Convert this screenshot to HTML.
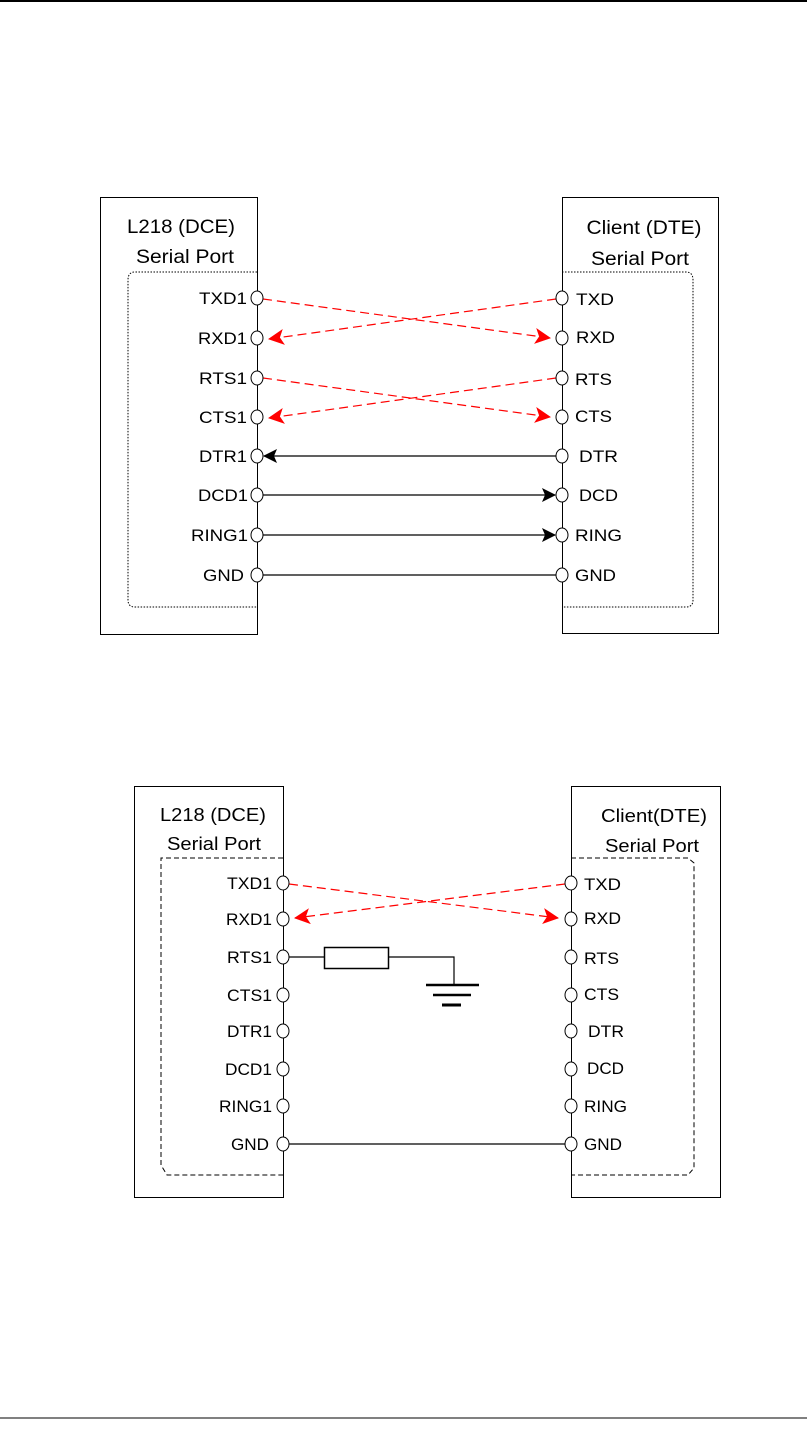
<!DOCTYPE html>
<html><head><style>
html,body{margin:0;padding:0;background:#fff;}
svg text{font-family:"Liberation Sans",sans-serif;fill:#000;}
</style></head><body>
<svg width="807" height="1447" viewBox="0 0 807 1447" xmlns="http://www.w3.org/2000/svg">
<defs>
<marker id="ar" markerWidth="16" markerHeight="16" refX="15" refY="8" orient="auto" markerUnits="userSpaceOnUse"><path d="M0,0 L16,8 L0,16 L4,8 z" fill="#f00"/></marker>
<marker id="ab" markerWidth="14" markerHeight="14" refX="13" refY="7" orient="auto" markerUnits="userSpaceOnUse"><path d="M0,0 L14,7 L0,14 L3,7 z" fill="#000"/></marker>
</defs>
<line x1="0" y1="1" x2="807" y2="1" stroke="#000" stroke-width="2"/>
<line x1="0" y1="1418" x2="807" y2="1418" stroke="#000" stroke-width="1"/>

<!-- Diagram 1 -->
<g fill="none" stroke="#000" stroke-width="1">
<rect x="100.5" y="197.5" width="157" height="437"/>
<rect x="562.5" y="197.5" width="156" height="436"/>
<path d="M257,272 H135 Q128,272 128,280 V600 Q128,607 135,607 H257" stroke-dasharray="1.5,1.5"/>
<path d="M562,272 H686 Q693,272 693,280 V600 Q693,607 686,607 H562" stroke-dasharray="1.5,1.5"/>
</g>
<g font-size="19" text-anchor="middle">
<text x="181" y="233" textLength="108" lengthAdjust="spacingAndGlyphs">L218 (DCE)</text>
<text x="185" y="263" textLength="98" lengthAdjust="spacingAndGlyphs">Serial Port</text>
<text x="644" y="234" textLength="115" lengthAdjust="spacingAndGlyphs">Client (DTE)</text>
<text x="640" y="265" textLength="98" lengthAdjust="spacingAndGlyphs">Serial Port</text>
</g>
<g stroke="#f00" stroke-width="1.2" stroke-dasharray="9,5" fill="none">
<line x1="263" y1="299" x2="550" y2="338" marker-end="url(#ar)"/>
<line x1="556" y1="299" x2="269" y2="339" marker-end="url(#ar)"/>
<line x1="263" y1="378" x2="550" y2="417" marker-end="url(#ar)"/>
<line x1="556" y1="378" x2="269" y2="418" marker-end="url(#ar)"/>
</g>
<g stroke="#000" stroke-width="1.2">
<line x1="556" y1="456" x2="264" y2="456" marker-end="url(#ab)"/>
<line x1="263" y1="495" x2="555" y2="495" marker-end="url(#ab)"/>
<line x1="263" y1="535" x2="555" y2="535" marker-end="url(#ab)"/>
<line x1="263" y1="575" x2="556" y2="575"/>
</g>
<g fill="#fff" stroke="#000" stroke-width="1">
<ellipse cx="257" cy="298" rx="6" ry="7"/><ellipse cx="257" cy="338" rx="6" ry="7"/>
<ellipse cx="257" cy="378" rx="6" ry="7"/><ellipse cx="257" cy="417" rx="6" ry="7"/>
<ellipse cx="257" cy="456" rx="6" ry="7"/><ellipse cx="257" cy="495" rx="6" ry="7"/>
<ellipse cx="257" cy="535" rx="6" ry="7"/><ellipse cx="257" cy="575" rx="6" ry="7"/>
<ellipse cx="562" cy="298" rx="6" ry="7"/><ellipse cx="562" cy="338" rx="6" ry="7"/>
<ellipse cx="562" cy="378" rx="6" ry="7"/><ellipse cx="562" cy="417" rx="6" ry="7"/>
<ellipse cx="562" cy="456" rx="6" ry="7"/><ellipse cx="562" cy="495" rx="6" ry="7"/>
<ellipse cx="562" cy="535" rx="6" ry="7"/><ellipse cx="562" cy="575" rx="6" ry="7"/>
</g>
<g font-size="17" text-anchor="end">
<text x="247" y="304" textLength="48" lengthAdjust="spacingAndGlyphs">TXD1</text>
<text x="247" y="344" textLength="49" lengthAdjust="spacingAndGlyphs">RXD1</text>
<text x="247" y="384" textLength="48" lengthAdjust="spacingAndGlyphs">RTS1</text>
<text x="247" y="423" textLength="48" lengthAdjust="spacingAndGlyphs">CTS1</text>
<text x="247" y="462" textLength="48" lengthAdjust="spacingAndGlyphs">DTR1</text>
<text x="248" y="501" textLength="50" lengthAdjust="spacingAndGlyphs">DCD1</text>
<text x="248" y="541" textLength="57" lengthAdjust="spacingAndGlyphs">RING1</text>
<text x="244" y="581" textLength="41" lengthAdjust="spacingAndGlyphs">GND</text>
</g>
<g font-size="17">
<text x="576" y="305" textLength="38" lengthAdjust="spacingAndGlyphs">TXD</text>
<text x="576" y="343" textLength="39" lengthAdjust="spacingAndGlyphs">RXD</text>
<text x="575" y="385" textLength="37" lengthAdjust="spacingAndGlyphs">RTS</text>
<text x="575" y="422" textLength="37" lengthAdjust="spacingAndGlyphs">CTS</text>
<text x="579" y="462" textLength="39" lengthAdjust="spacingAndGlyphs">DTR</text>
<text x="579" y="501" textLength="39" lengthAdjust="spacingAndGlyphs">DCD</text>
<text x="575" y="541" textLength="47" lengthAdjust="spacingAndGlyphs">RING</text>
<text x="575" y="581" textLength="41" lengthAdjust="spacingAndGlyphs">GND</text>
</g>

<!-- Diagram 2 -->
<g fill="none" stroke="#000" stroke-width="1">
<rect x="134.5" y="786.5" width="149" height="411"/>
<rect x="571.5" y="786.5" width="149" height="411"/>
<path d="M283,858 H161 V1165 L167,1175 H283" stroke-dasharray="5,3"/>
<path d="M571,858 H688 L694,863 V1168 L688,1175 H571" stroke-dasharray="5,3"/>
</g>
<g font-size="18.5" text-anchor="middle">
<text x="213" y="821" textLength="106" lengthAdjust="spacingAndGlyphs">L218 (DCE)</text>
<text x="214" y="850" textLength="94" lengthAdjust="spacingAndGlyphs">Serial Port</text>
<text x="654" y="822" textLength="106" lengthAdjust="spacingAndGlyphs">Client(DTE)</text>
<text x="652" y="852" textLength="94" lengthAdjust="spacingAndGlyphs">Serial Port</text>
</g>
<g stroke="#f00" stroke-width="1.2" stroke-dasharray="9,5" fill="none">
<line x1="289" y1="884" x2="558" y2="918" marker-end="url(#ar)"/>
<line x1="565" y1="884" x2="295" y2="918" marker-end="url(#ar)"/>
</g>
<g stroke="#000" stroke-width="1.2" fill="none">
<line x1="289" y1="957" x2="324" y2="957"/>
<rect x="324.5" y="947.5" width="64" height="21" stroke-width="1.5"/>
<polyline points="389,957 454,957 454,985"/>
<line x1="426" y1="985" x2="479" y2="985" stroke-width="2.5"/>
<line x1="433" y1="995" x2="471" y2="995" stroke-width="2.5"/>
<line x1="442" y1="1005" x2="461" y2="1005" stroke-width="3"/>
<line x1="289" y1="1144" x2="565" y2="1144"/>
</g>
<g fill="#fff" stroke="#000" stroke-width="1">
<ellipse cx="283" cy="883" rx="6" ry="7"/><ellipse cx="283" cy="919" rx="6" ry="7"/>
<ellipse cx="283" cy="957" rx="6" ry="7"/><ellipse cx="283" cy="995" rx="6" ry="7"/>
<ellipse cx="283" cy="1031" rx="6" ry="7"/><ellipse cx="283" cy="1069" rx="6" ry="7"/>
<ellipse cx="283" cy="1106" rx="6" ry="7"/><ellipse cx="283" cy="1144" rx="6" ry="7"/>
<ellipse cx="571" cy="883" rx="6" ry="7"/><ellipse cx="571" cy="919" rx="6" ry="7"/>
<ellipse cx="571" cy="957" rx="6" ry="7"/><ellipse cx="571" cy="995" rx="6" ry="7"/>
<ellipse cx="571" cy="1031" rx="6" ry="7"/><ellipse cx="571" cy="1069" rx="6" ry="7"/>
<ellipse cx="571" cy="1106" rx="6" ry="7"/><ellipse cx="571" cy="1144" rx="6" ry="7"/>
</g>
<g font-size="16.5" text-anchor="end">
<text x="272" y="889" textLength="45" lengthAdjust="spacingAndGlyphs">TXD1</text>
<text x="272" y="925" textLength="46" lengthAdjust="spacingAndGlyphs">RXD1</text>
<text x="272" y="963" textLength="45" lengthAdjust="spacingAndGlyphs">RTS1</text>
<text x="272" y="1001" textLength="45" lengthAdjust="spacingAndGlyphs">CTS1</text>
<text x="272" y="1037" textLength="45" lengthAdjust="spacingAndGlyphs">DTR1</text>
<text x="272" y="1075" textLength="47" lengthAdjust="spacingAndGlyphs">DCD1</text>
<text x="272" y="1112" textLength="53" lengthAdjust="spacingAndGlyphs">RING1</text>
<text x="269" y="1150" textLength="38" lengthAdjust="spacingAndGlyphs">GND</text>
</g>
<g font-size="16.5">
<text x="584" y="890" textLength="37" lengthAdjust="spacingAndGlyphs">TXD</text>
<text x="584" y="924" textLength="37" lengthAdjust="spacingAndGlyphs">RXD</text>
<text x="584" y="964" textLength="35" lengthAdjust="spacingAndGlyphs">RTS</text>
<text x="584" y="1000" textLength="35" lengthAdjust="spacingAndGlyphs">CTS</text>
<text x="588" y="1037" textLength="36" lengthAdjust="spacingAndGlyphs">DTR</text>
<text x="587" y="1074" textLength="37" lengthAdjust="spacingAndGlyphs">DCD</text>
<text x="584" y="1112" textLength="43" lengthAdjust="spacingAndGlyphs">RING</text>
<text x="584" y="1150" textLength="38" lengthAdjust="spacingAndGlyphs">GND</text>
</g>
</svg>
</body></html>
